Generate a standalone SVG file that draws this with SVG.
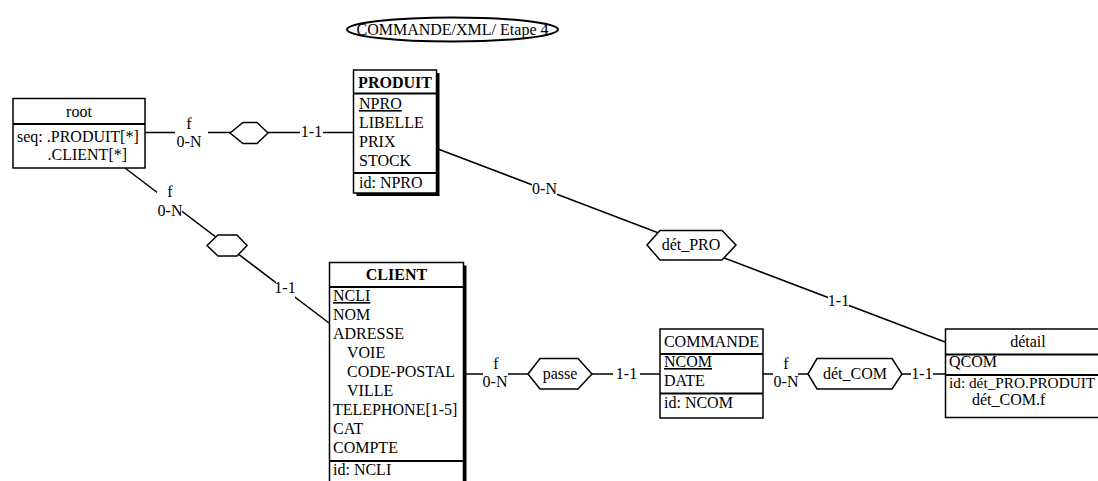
<svg xmlns="http://www.w3.org/2000/svg" width="1098" height="481" viewBox="0 0 1098 481">
<style>
text{font-family:"Liberation Serif","Times New Roman",serif;font-size:16px;fill:#000}
.b{font-weight:bold}
.m{text-anchor:middle}
.box{fill:#fff;stroke:#000;stroke-width:1.5}
.sh{fill:#000}
.sep{stroke:#000;stroke-width:2}
.ln{stroke:#000;stroke-width:1.5;fill:none}
.hex{fill:#fff;stroke:#000;stroke-width:1.5}
.gap{fill:#fff}
</style>
<rect width="1098" height="481" fill="#fff"/>

<g id="title">
<ellipse cx="452.5" cy="29.5" rx="105.5" ry="12" fill="#fff" stroke="#000" stroke-width="2"/>
<text class="m" x="452.5" y="35">COMMANDE/XML/ Etape 4</text>
</g>

<g id="connectors">
<line class="ln" x1="145" y1="132.5" x2="353" y2="132.5"/>
<line class="ln" x1="125" y1="168" x2="329" y2="323"/>
<line class="ln" x1="438" y1="149" x2="945" y2="342"/>
<line class="ln" x1="466" y1="374" x2="660" y2="374"/>
<line class="ln" x1="763" y1="374" x2="945" y2="374"/>
<rect class="gap" x="175" y="117" width="33" height="32"/>
<rect class="gap" x="300" y="125" width="23" height="14"/>
<rect class="gap" x="157" y="186" width="25" height="32"/>
<rect class="gap" x="276" y="282" width="19" height="16"/>
<rect class="gap" x="532" y="180" width="25" height="18"/>
<rect class="gap" x="828" y="294" width="21" height="14"/>
<rect class="gap" x="483" y="358" width="25" height="31"/>
<rect class="gap" x="613" y="366" width="27" height="14"/>
<rect class="gap" x="773" y="358" width="25" height="31"/>
<rect class="gap" x="911" y="366" width="22" height="14"/>
<text class="m" x="189" y="129">f</text>
<text class="m" x="189" y="147">0-N</text>
<text class="m" x="311.5" y="137">1-1</text>
<text class="m" x="170" y="197">f</text>
<text class="m" x="170" y="216">0-N</text>
<text class="m" x="285" y="293">1-1</text>
<text class="m" x="544.5" y="194">0-N</text>
<text class="m" x="838.5" y="306">1-1</text>
<text class="m" x="496" y="369">f</text>
<text class="m" x="495" y="387">0-N</text>
<text class="m" x="626.5" y="379">1-1</text>
<text class="m" x="786" y="369">f</text>
<text class="m" x="786" y="387">0-N</text>
<text class="m" x="922" y="379">1-1</text>
</g>

<g id="rel-root-produit">
<polygon class="hex" points="230,133 243,122.5 257,122.5 268,133 257,143.5 243,143.5"/>
</g>
<g id="rel-root-client">
<polygon class="hex" points="207,245.5 218,235 237,235 247,245.5 237,256 218,256"/>
</g>
<g id="rel-det_PRO">
<polygon class="hex" points="647,245 660,230.5 722,230.5 736,245 722,260 660,260"/>
<text class="m" x="691" y="250">dét_PRO</text>
</g>
<g id="rel-passe">
<polygon class="hex" points="528,374 540,358.5 578,358.5 592,374 578,389 540,389"/>
<text class="m" x="560" y="379">passe</text>
</g>
<g id="rel-det_COM">
<polygon class="hex" points="808,374 817,358.5 892,358.5 902,374 892,389 817,389"/>
<text class="m" x="855" y="379">dét_COM</text>
</g>

<g id="root">
<rect class="box" x="13" y="98.5" width="132" height="69.5"/>
<line class="sep" x1="13" y1="124" x2="145" y2="124"/>
<text class="m" x="79" y="117">root</text>
<text x="17" y="142">seq: .PRODUIT[*]</text>
<text x="47.5" y="160">.CLIENT[*]</text>
</g>

<g id="PRODUIT">
<rect class="sh" x="356.5" y="73" width="83" height="123"/>
<rect class="box" x="353.5" y="70" width="83" height="123"/>
<line class="sep" x1="353.5" y1="93.5" x2="436.5" y2="93.5"/>
<line class="sep" x1="353.5" y1="173" x2="436.5" y2="173"/>
<text class="m b" x="395" y="88">PRODUIT</text>
<text x="359" y="109" text-decoration="underline">NPRO</text>
<text x="359" y="128">LIBELLE</text>
<text x="359" y="147">PRIX</text>
<text x="359" y="166">STOCK</text>
<text x="359" y="188">id: NPRO</text>
</g>

<g id="CLIENT">
<rect class="sh" x="332.5" y="265.5" width="134" height="230"/>
<rect class="box" x="329.5" y="262.5" width="134" height="230"/>
<line class="sep" x1="329.5" y1="287" x2="463.5" y2="287"/>
<line class="sep" x1="329.5" y1="461" x2="463.5" y2="461"/>
<text class="m b" x="396.5" y="280">CLIENT</text>
<text x="333" y="301" text-decoration="underline">NCLI</text>
<text x="333" y="320">NOM</text>
<text x="333" y="339">ADRESSE</text>
<text x="347" y="358">VOIE</text>
<text x="347" y="377">CODE-POSTAL</text>
<text x="347" y="396">VILLE</text>
<text x="333" y="415">TELEPHONE[1-5]</text>
<text x="333" y="434">CAT</text>
<text x="333" y="453">COMPTE</text>
<text x="333" y="475">id: NCLI</text>
</g>

<g id="COMMANDE">
<rect class="box" x="660" y="329" width="103" height="89"/>
<line class="sep" x1="660" y1="354" x2="763" y2="354"/>
<line class="sep" x1="660" y1="393.5" x2="763" y2="393.5"/>
<text class="m" x="711.5" y="347">COMMANDE</text>
<text x="664" y="367" text-decoration="underline">NCOM</text>
<text x="664" y="386">DATE</text>
<text x="664" y="408">id: NCOM</text>
</g>

<g id="detail">
<rect class="box" x="945.5" y="329" width="166" height="88.5"/>
<line class="sep" x1="945.5" y1="354.5" x2="1111.5" y2="354.5"/>
<line class="sep" x1="945.5" y1="375" x2="1111.5" y2="375"/>
<text class="m" x="1028" y="347">détail</text>
<text x="949" y="367">QCOM</text>
<text x="949" y="388" style="font-size:15.3px">id: dét_PRO.PRODUIT</text>
<text x="972" y="405">dét_COM.f</text>
</g>
</svg>
